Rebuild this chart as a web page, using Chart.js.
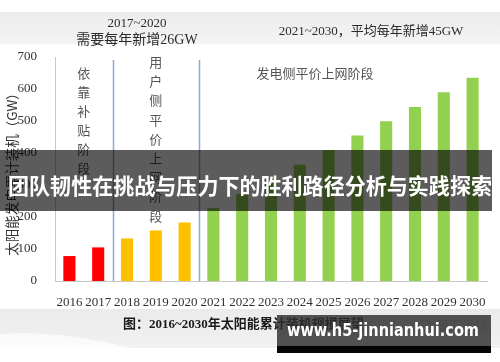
<!DOCTYPE html>
<html>
<head>
<meta charset="utf-8">
<script src="https://cdn.jsdelivr.net/npm/chart.js@4.4.1/dist/chart.umd.min.js"></script>
<style>
html,body{margin:0;padding:0;background:#fff;}
#wrap{position:relative;width:500px;height:362px;}
canvas{display:block;}
</style>
</head>
<body>
<div id="wrap"><canvas id="c" width="500" height="362"></canvas></div>
<script>
// ---- data ----
const years = ['2016','2017','2018','2019','2020','2021','2022','2023','2024','2025','2026','2027','2028','2029','2030'];
const capacityGW = [78, 105, 133, 158, 183, 228, 272, 318, 363, 409, 455, 499, 544, 590, 635];
const phaseOfYear = ['subsidy','subsidy','user','user','user','grid','grid','grid','grid','grid','grid','grid','grid','grid','grid'];
const phaseColors = {subsidy:'#ff0000', user:'#ffc000', grid:'#92d050'};
const yTicks = [0,100,200,300,400,500,600,700];
const headerLeft = ['2017~2020','需要每年新增26GW'];
const headerRight = '2021~2030，平均每年新增45GW';
const phaseLabels = ['依靠补贴阶段','用户侧平价上网阶段','发电侧平价上网阶段'];
const yTitle = '太阳能发电累计装机（GW）';
const caption = '图：2016~2030年太阳能累计装机规模展望';
const brand = '智汇光伏';
const overlayTitle = '团队韧性在挑战与压力下的胜利路径分析与实践探索';
const siteMark = 'www.h5-jinnianhui.com';

const SERIF = '"Liberation Serif","DejaVu Serif",serif';
const CJK = '"Noto Sans CJK SC","Noto Sans",sans-serif';

const decor = {
  id:'decor',
  beforeDraw(chart){
    const ctx = chart.ctx;
    ctx.save();
    // top grey band
    let g = ctx.createLinearGradient(0,12,0,45);
    g.addColorStop(0,'#ececec'); g.addColorStop(1,'#f4f4f4');
    ctx.fillStyle = g; ctx.fillRect(0,12,500,32);
    // bottom grey band
    g = ctx.createLinearGradient(0,309,0,348);
    g.addColorStop(0,'#ebebeb'); g.addColorStop(1,'#f1f1f1');
    ctx.fillStyle = g; ctx.fillRect(0,309,500,39);
    // light swoosh bottom-left
    ctx.fillStyle = 'rgba(255,255,255,0.7)';
    ctx.beginPath();
    ctx.moveTo(0,334); ctx.quadraticCurveTo(60,330,130,348); ctx.lineTo(0,348); ctx.closePath(); ctx.fill();
    ctx.restore();
  },
  afterDraw(chart){
    const ctx = chart.ctx;
    const x = chart.scales.x, y = chart.scales.y, a = chart.chartArea;
    ctx.save();
    // phase dividers
    const d1 = (x.getPixelForValue(1)+x.getPixelForValue(2))/2;
    const d2 = (x.getPixelForValue(4)+x.getPixelForValue(5))/2;
    ctx.strokeStyle = '#8ea8cf'; ctx.lineWidth = 1.5;
    [d1,d2].forEach(px=>{ctx.beginPath(); ctx.moveTo(Math.round(px)+0.5,60); ctx.lineTo(Math.round(px)+0.5,a.bottom); ctx.stroke();});
    // headers
    ctx.fillStyle = '#2b2b2b'; ctx.textAlign='center'; ctx.textBaseline='middle';
    ctx.font = '13px '+SERIF; ctx.fillText(headerLeft[0],137,24);
    ctx.font = '14px '+SERIF+','+CJK;
    ctx.font = '14px "Liberation Serif","Noto Sans CJK SC",serif';
    ctx.fillText(headerLeft[1],137,40);
    ctx.font = '13px "Liberation Serif","Noto Sans CJK SC",serif';
    ctx.fillText(headerRight,371,32);
    // phase labels (vertical)
    ctx.fillStyle = '#555'; ctx.font = '13px '+CJK;
    const xs = (x.getPixelForValue(0)+x.getPixelForValue(1))/2;
    [...phaseLabels[0]].forEach((ch,i)=>ctx.fillText(ch,xs,73+i*19));
    const xu = x.getPixelForValue(3);
    [...phaseLabels[1]].forEach((ch,i)=>ctx.fillText(ch,xu,62+i*19.2));
    ctx.fillText(phaseLabels[2],315,73);
    // y title
    ctx.save(); ctx.translate(12,171); ctx.rotate(-Math.PI/2);
    ctx.fillStyle='#333'; ctx.font='13.5px '+CJK; ctx.fillText(yTitle,0,0); ctx.restore();
    // caption
    ctx.fillStyle='#1a1a1a'; ctx.font='bold 13px "Liberation Serif","Noto Sans CJK SC",serif';
    ctx.textAlign='left'; ctx.fillText(caption,123,325);
    ctx.fillStyle='#c4c4c4'; ctx.font='13px '+CJK; ctx.fillText(brand,436,325);
    ctx.strokeStyle='#c4c4c4'; ctx.lineWidth=1.2; ctx.beginPath(); ctx.arc(425,326,6,Math.PI*1.1,Math.PI*1.9); ctx.stroke();
    // overlay band
    ctx.fillStyle='rgba(0,0,0,0.64)'; ctx.fillRect(0,150,492,61);
    ctx.fillStyle='#ffffff'; ctx.textAlign='center';
    ctx.font='bold 22px '+CJK; ctx.fillText(overlayTitle,250,186,484);
    // site mark box
    ctx.fillStyle='rgba(45,45,45,0.82)'; ctx.fillRect(277,315,214,32);
    ctx.fillStyle='#050505'; ctx.fillRect(277,346,214,7);
    ctx.fillStyle='#fff'; ctx.font='bold 17px "DejaVu Sans",sans-serif';
    ctx.fillText(siteMark,383,332,192);
    ctx.restore();
  }
};

new Chart(document.getElementById('c'),{
  type:'bar',
  data:{labels:years,datasets:[{data:capacityGW,backgroundColor:phaseOfYear.map(p=>phaseColors[p]),barPercentage:0.42,categoryPercentage:1}]},
  options:{
    responsive:false,animation:false,
    layout:{padding:{left:0,right:13,top:57,bottom:51}},
    plugins:{legend:{display:false},tooltip:{enabled:false}},
    scales:{
      x:{grid:{display:false},border:{display:true,color:'#c8c8c8',width:1},
         ticks:{color:'#333',font:{family:SERIF,size:13},padding:6,maxRotation:0,autoSkip:false},
         afterFit:s=>{s.height=30;}},
      y:{min:0,max:700,grid:{display:false},border:{display:true,color:'#c8c8c8',width:1},
         afterBuildTicks:s=>{s.ticks=yTicks.map(v=>({value:v}));},
         ticks:{color:'#333',font:{family:SERIF,size:13},padding:10},
         afterFit:s=>{s.width=55;}}
    }
  },
  plugins:[decor]
});
</script>
</body>
</html>
